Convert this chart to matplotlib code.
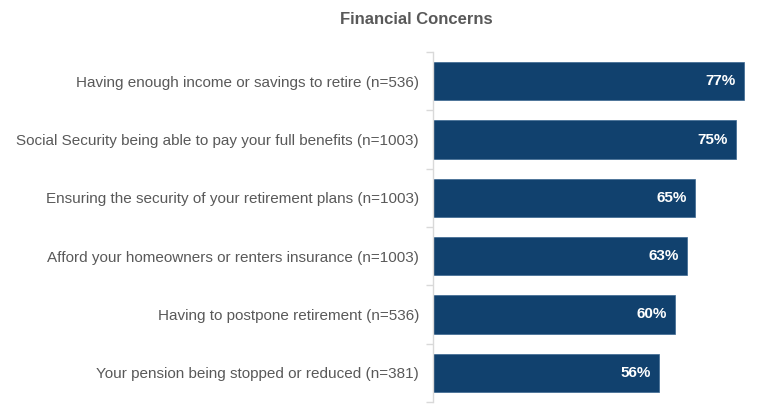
import matplotlib.pyplot as plt
import numpy as np

categories = [
    "Having enough income or savings to retire (n=536)",
    "Social Security being able to pay your full benefits (n=1003)",
    "Ensuring the security of your retirement plans (n=1003)",
    "Afford your homeowners or renters insurance (n=1003)",
    "Having to postpone retirement (n=536)",
    "Your pension being stopped or reduced (n=381)",
]
values = [77, 75, 65, 63, 60, 56]

plt.rcParams['font.family'] = ['Liberation Sans', 'DejaVu Sans']

fig = plt.figure(figsize=(7.76, 4.17), dpi=100)
ax = fig.add_axes([433 / 776, 1 - 402 / 417, 323 / 776, 350 / 417])

y = np.arange(len(categories))
ax.barh(y, values, height=0.66, color="#11416e", edgecolor="#3a6690", linewidth=0.5)

for yi, v in zip(y, values):
    ax.text(v - 2, yi, f"{v}%", ha="right", va="center", color="white",
            fontsize=11, fontweight="bold")

ax.set_xlim(0, 80)
ax.set_ylim(len(categories) - 0.5, -0.5)

ax.set_yticks(y)
ax.set_yticklabels(categories, fontsize=11, color="#595959")
ax.tick_params(axis="y", which="major", length=0, pad=10)
ax.set_yticks(np.arange(-0.5, len(categories)), minor=True)
ax.tick_params(axis="y", which="minor", length=5, color="#d9d9d9", width=1)
ax.set_xticks([])

for s in ["top", "right", "bottom"]:
    ax.spines[s].set_visible(False)
ax.spines["left"].set_color("#d9d9d9")
ax.spines["left"].set_linewidth(1)

fig.text(416 / 776, 1 - 20 / 417, "Financial Concerns", ha="center", va="center",
         fontsize=12, fontweight="bold", color="#595959")

fig.savefig("out.png", dpi=100)
